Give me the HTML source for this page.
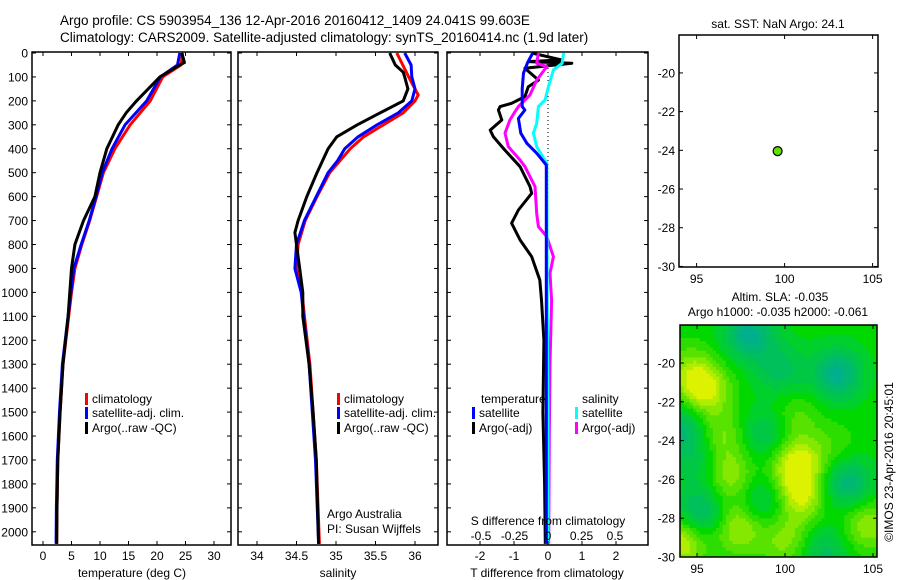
<!DOCTYPE html>
<html><head><meta charset="utf-8">
<style>
html,body{margin:0;padding:0;background:#fff;width:900px;height:580px;overflow:hidden;}
svg{display:block;font-family:"Liberation Sans",sans-serif;}
text{fill:#000;}
</style></head>
<body>
<svg id="chart" width="900" height="580" viewBox="0 0 900 580" xmlns="http://www.w3.org/2000/svg">
<text x="60" y="25" font-size="13.5">Argo profile: CS 5903954_136 12-Apr-2016 20160412_1409 24.041S 99.603E</text>
<text x="60" y="42" font-size="13.5">Climatology: CARS2009. Satellite-adjusted climatology: synTS_20160414.nc (1.9d later)</text>
<g id="g"></g>
</svg>
<script>
// ---- data ----
const tempClimDepth=[0,50,100,200,300,400,500,600,700,800,900,1000,1100,1300,1500,1700,1900,2050];
const tempClimVal=[24.5,24.2,21,18.8,15.3,12.6,10.6,9.4,8.2,6.8,5.6,5.0,4.5,3.5,3.0,2.6,2.45,2.4];
const tempSatDepth=[0,50,100,200,300,400,500,600,700,800,900,1000,1100,1300,1500,1700,1900,2050];
const tempSatVal=[24.0,23.6,20.6,18.2,14.4,12.1,10.4,9.3,8.1,6.7,5.4,4.9,4.4,3.4,2.9,2.5,2.35,2.3];
const tempArgoDepth=[0,20,40,50,100,200,250,300,400,500,600,700,800,900,1000,1100,1300,1500,1700,1900,2050];
const tempArgoVal=[24.3,24.6,24.8,24.0,20.5,16.4,14.6,13.2,11.2,10.0,9.1,7.1,5.6,5.0,4.7,4.4,3.5,3.0,2.6,2.45,2.4];

const salClimDepth=[0,100,150,175,200,250,300,350,400,500,600,700,800,900,1000,1100,1300,1500,1700,2050];
const salClimVal=[35.77,35.92,36.0,36.04,36.0,35.85,35.6,35.35,35.18,34.92,34.76,34.61,34.52,34.5,34.57,34.6,34.67,34.71,34.75,34.79];
const salSatDepth=[0,50,100,150,200,250,300,350,400,450,500,600,700,800,900,1000,1100,1300,1500,1700,2050];
const salSatVal=[35.87,35.95,35.96,36.0,35.96,35.79,35.52,35.28,35.11,35.02,34.9,34.75,34.6,34.5,34.48,34.56,34.59,34.66,34.7,34.74,34.78];
const salArgoDepth=[0,50,80,100,150,200,250,300,350,400,500,600,700,750,800,900,1000,1100,1300,1500,1700,2050];
const salArgoVal=[35.68,35.75,35.85,35.87,35.91,35.85,35.56,35.27,35.01,34.9,34.76,34.63,34.52,34.48,34.5,34.54,34.58,34.58,34.66,34.71,34.75,34.78];

const dTsatDepth=[0,40,84,150,224,238,273,335,377,419,468,1000,2050];
const dTsatVal=[-0.45,-0.6,-0.72,-0.76,-0.76,-0.68,-0.87,-0.8,-0.62,-0.33,-0.05,-0.05,-0.05];
const dTargoDepth=[0,29,36,43,50,64,113,141,182,210,224,238,280,322,349,405,475,558,586,656,711,781,851,948,1032,1200,1500,1800,2050];
const dTargoVal=[-0.48,0.4,-0.58,0.7,0.21,-0.68,-0.28,-0.58,-0.68,-1.07,-1.41,-1.46,-1.36,-1.7,-1.61,-1.27,-0.82,-0.53,-0.48,-0.87,-1.07,-0.82,-0.48,-0.24,-0.19,-0.12,-0.15,-0.1,-0.08];
const dSsatDepth=[0,43,71,141,196,224,294,335,391,461,1032,1500,2050];
const dSsatVal=[0.117,0.105,0.04,0.003,-0.022,-0.072,-0.084,-0.109,-0.084,-0.009,-0.005,0.0,0.0];
const dSargoDepth=[0,43,57,113,175,224,245,280,335,391,447,475,558,670,725,767,851,920,1032,1300,1600,2050];
const dSargoVal=[-0.072,-0.084,-0.009,-0.084,-0.134,-0.221,-0.246,-0.284,-0.321,-0.296,-0.209,-0.172,-0.097,-0.084,-0.072,-0.009,0.04,0.015,0.027,0.015,0.01,0.005];

const depthTicks=[0,100,200,300,400,500,600,700,800,900,1000,1100,1200,1300,1400,1500,1600,1700,1800,1900,2000];
const tempTicks=[0,5,10,15,20,25,30];
const salTicks=[34,34.5,35,35.5,36];
const dTTicks=[-2,-1,0,1,2];
const dSTicks=[-0.5,-0.25,0,0.25,0.5];
const dSTickLabels=["-0.5","-0.25","0","0.25","0.5"];
const lonTicks=[95,100,105];
const latTicks=[-20,-22,-24,-26,-28,-30];
const argoLon=[99.603];
const argoLat=[-24.041];
// SLA map anomaly blobs: u (0-1 across), v (0-1 down), amplitude
const blobU=[0.12,0.2,0.59,0.61,0.25,0.01,0.3,0.54,0.95,0.58,0.78,0.35,0.8,0.01,0.44,0.1,0.85,0.42,0.73,0.51,0.1,0.05];
const blobV=[0.28,0.48,0.6,0.74,0.65,0.93,0.87,0.93,0.86,0.4,0.54,0.04,0.21,0.44,0.47,0.81,0.68,0.76,0.97,0.19,0.58,0.2];
const blobA=[1,0.6,1.1,0.9,0.7,1,0.8,0.6,0.7,0.4,0.3,-1,-1,-0.8,-0.6,-0.9,-0.9,-0.6,-0.6,-0.6,-0.5,0.5];

// ---- helpers ----
const NS="http://www.w3.org/2000/svg";
const G=document.getElementById('g');
function el(tag,attrs,parent){const e=document.createElementNS(NS,tag);for(const k in attrs)e.setAttribute(k,attrs[k]);(parent||G).appendChild(e);return e;}
function txt(x,y,s,anchor,size,name){const t=el('text',{x:x,y:y,'font-size':size||12,'text-anchor':anchor||'start'});t.textContent=s;


return t;}
const yD=d=>53+d*0.2394;
const xT=v=>43+v*5.7;
const xS=v=>257+(v-34)*79;
const xdT=v=>548+v*34;
const xdS=v=>548+v*134;

function frame(x0,x1,y0,y1,name){
  const r=el('rect',{x:x0,y:y0,width:x1-x0,height:y1-y0,fill:'none',stroke:'#000','stroke-width':1.5});
  
  
}
function line(xs,ys,color,w,name){
  let d='';for(let i=0;i<xs.length;i++)d+=(i?'L':'M')+xs[i].toFixed(1)+' '+ys[i].toFixed(1);
  const p=el('path',{d:d,fill:'none',stroke:color,'stroke-width':w,'stroke-linejoin':'round'});
  
  
}
function depthTicksOn(x0,x1,labels){
  depthTicks.forEach(d=>{const y=yD(d);
    el('line',{x1:x0,y1:y,x2:x0+4,y2:y,stroke:'#000'});
    el('line',{x1:x1,y1:y,x2:x1-4,y2:y,stroke:'#000'});
    if(labels)txt(x0-4,y+4.5,String(d),'end',12,'depth-tick-label');
  });
}
function xTicks(vals,fx,y0,y1,labs,ly,name){
  vals.forEach((v,i)=>{const x=fx(v);
    el('line',{x1:x,y1:y0,x2:x,y2:y0+4,stroke:'#000'});
    el('line',{x1:x,y1:y1,x2:x,y2:y1-4,stroke:'#000'});
    txt(x,ly,labs?labs[i]:String(v),'middle',12,name);
  });
}
function legendItem(x,y,color,label,name){
  const r=el('rect',{x:x,y:y-10,width:3,height:12,fill:color});
  
  
  txt(x+7,y,label,'start',12,name);
}

// ---- panel 1: temperature ----
frame(32,231,52,545,'temperature-panel');
depthTicksOn(32,231,true);
xTicks(tempTicks,xT,52,545,null,560,'temperature-tick-label');
txt(132,577,'temperature (deg C)','middle',12,'temperature-axis-title');
line(tempClimVal.map(xT),tempClimDepth.map(yD),'#ff0000',3,'temperature-climatology-line');
line(tempSatVal.map(xT),tempSatDepth.map(yD),'#0000ff',3,'temperature-satellite-line');
line(tempArgoVal.map(xT),tempArgoDepth.map(yD),'#000000',3,'temperature-argo-line');
legendItem(85,403,'#ff0000','climatology','legend-climatology');
legendItem(85,417,'#0000ff','satellite-adj. clim.','legend-satellite');
legendItem(85,432,'#000000','Argo(..raw -QC)','legend-argo');

// ---- panel 2: salinity ----
frame(238,438,52,545,'salinity-panel');
depthTicksOn(238,438,false);
xTicks(salTicks,xS,52,545,null,560,'salinity-tick-label');
txt(338,577,'salinity','middle',12,'salinity-axis-title');
line(salClimVal.map(xS),salClimDepth.map(yD),'#ff0000',3,'salinity-climatology-line');
line(salSatVal.map(xS),salSatDepth.map(yD),'#0000ff',3,'salinity-satellite-line');
line(salArgoVal.map(xS),salArgoDepth.map(yD),'#000000',3,'salinity-argo-line');
legendItem(337,403,'#ff0000','climatology','legend-sal-climatology');
legendItem(337,417,'#0000ff','satellite-adj. clim.','legend-sal-satellite');
legendItem(337,432,'#000000','Argo(..raw -QC)','legend-sal-argo');
txt(327,518,'Argo Australia','start',12,'credit-argo-australia');
txt(327,533,'PI: Susan Wijffels','start',12,'credit-pi');

// ---- panel 3: differences ----
frame(447,648,52,545,'difference-panel');
depthTicksOn(447,648,false);
el('line',{x1:548,y1:52,x2:548,y2:545,stroke:'#000','stroke-dasharray':'1,3'});
line(dTargoVal.map(xdT),dTargoDepth.map(yD),'#000000',3,'temp-diff-argo-line');
line(dSargoVal.map(xdS),dSargoDepth.map(yD),'#ff00ff',3,'sal-diff-argo-line');
line(dSsatVal.map(xdS),dSsatDepth.map(yD),'#00ffff',3,'sal-diff-satellite-line');
line(dTsatVal.map(xdT),dTsatDepth.map(yD),'#0000ff',3,'temp-diff-satellite-line');
xTicks(dTTicks,xdT,52,545,null,560,'temp-diff-tick-label');
dSTicks.forEach((v,i)=>txt(xdS(v),540,dSTickLabels[i],'middle',12,'sal-diff-tick-label'));
txt(548,525,'S difference from climatology','middle',12,'sal-diff-axis-title');
txt(547,577,'T difference from climatology','middle',12,'temp-diff-axis-title');
txt(481,403,'temperature','start',12,'legend-temperature-heading');
txt(582,403,'salinity','start',12,'legend-salinity-heading');
legendItem(472,417,'#0000ff','satellite','legend-temp-satellite');
legendItem(472,432,'#000000','Argo(-adj)','legend-temp-argo');
legendItem(575,417,'#00ffff','satellite','legend-sal-satellite-diff');
legendItem(575,432,'#ff00ff','Argo(-adj)','legend-sal-argo-diff');

// ---- top-right map (SST) ----
const lonX=v=>679+(v-94)*17.6;
const latY1=v=>35+(-18.04-v)*19.35;
txt(778,28,'sat. SST: NaN Argo: 24.1','middle',12,'sst-map-title');
frame(679,878,35,267,'sst-map');
latTicks.forEach(v=>{const y=latY1(v);
  el('line',{x1:679,y1:y,x2:683,y2:y,stroke:'#000'});el('line',{x1:878,y1:y,x2:874,y2:y,stroke:'#000'});
  txt(675,y+4.5,String(v),'end',12,'sst-lat-tick-label');});
lonTicks.forEach(v=>{const x=lonX(v);
  el('line',{x1:x,y1:267,x2:x,y2:263,stroke:'#000'});el('line',{x1:x,y1:35,x2:x,y2:39,stroke:'#000'});
  txt(x,283,String(v),'middle',12,'sst-lon-tick-label');});
argoLon.forEach((lo,i)=>{const c=el('circle',{cx:lonX(lo),cy:latY1(argoLat[i]),r:4.5,fill:'#66dd00',stroke:'#000','stroke-width':1.2});
  
  });
txt(780,301,'Altim. SLA: -0.035','middle',12,'sla-label');
txt(778,316,'Argo h1000: -0.035 h2000: -0.061','middle',12,'argo-height-label');

// ---- bottom-right SLA heatmap ----
const hx0=680,hx1=877,hy0=325,hy1=557;
const NX=60,NY=72;
const hm=el('g',{});


function col(v){
  v=Math.max(-1,Math.min(1.2,v));
  let r,g,b;
  if(v<0){const t=-v;r=0;g=Math.round(216-t*40);b=Math.round(20+t*120);}
  else{const t=Math.min(1,v);r=Math.round(t*220);g=Math.round(216+t*26);b=0;}
  return `rgb(${r},${g},${b})`;
}
const cw=(hx1-hx0)/NX,ch=(hy1-hy0)/NY;
for(let j=0;j<NY;j++)for(let i=0;i<NX;i++){
  const u=(i+0.5)/NX,v=(j+0.5)/NY;let s=0;
  for(let k=0;k<blobU.length;k++){const du=(u-blobU[k])/0.09,dv=(v-blobV[k])/0.08;s+=blobA[k]*Math.exp(-(du*du+dv*dv)/2);}
  s=Math.round(s*5)/5;
  el('rect',{x:(hx0+i*cw).toFixed(2),y:(hy0+j*ch).toFixed(2),width:(cw+0.4).toFixed(2),height:(ch+0.4).toFixed(2),fill:col(s)},hm);
}
frame(hx0,hx1,hy0,hy1,'sla-map-frame');
const latY2=v=>557-(v+30)*19.4;
latTicks.forEach(v=>{const y=latY2(v);
  el('line',{x1:hx0,y1:y,x2:hx0+4,y2:y,stroke:'#000'});el('line',{x1:hx1,y1:y,x2:hx1-4,y2:y,stroke:'#000'});
  txt(675,y+4.5,String(v),'end',12,'sla-lat-tick-label');});
lonTicks.forEach((v,i)=>{const x=697+(v-95)*17.6;
  el('line',{x1:x,y1:hy1,x2:x,y2:hy1-4,stroke:'#000'});el('line',{x1:x,y1:hy0,x2:x,y2:hy0+4,stroke:'#000'});
  txt(x,573,String(v),'middle',12,'sla-lon-tick-label');});
const cr=txt(0,0,'©IMOS 23-Apr-2016 20:45:01','middle',12,'imos-credit');
cr.setAttribute('transform','translate(893,462) rotate(-90)');
</script>
</body></html>
